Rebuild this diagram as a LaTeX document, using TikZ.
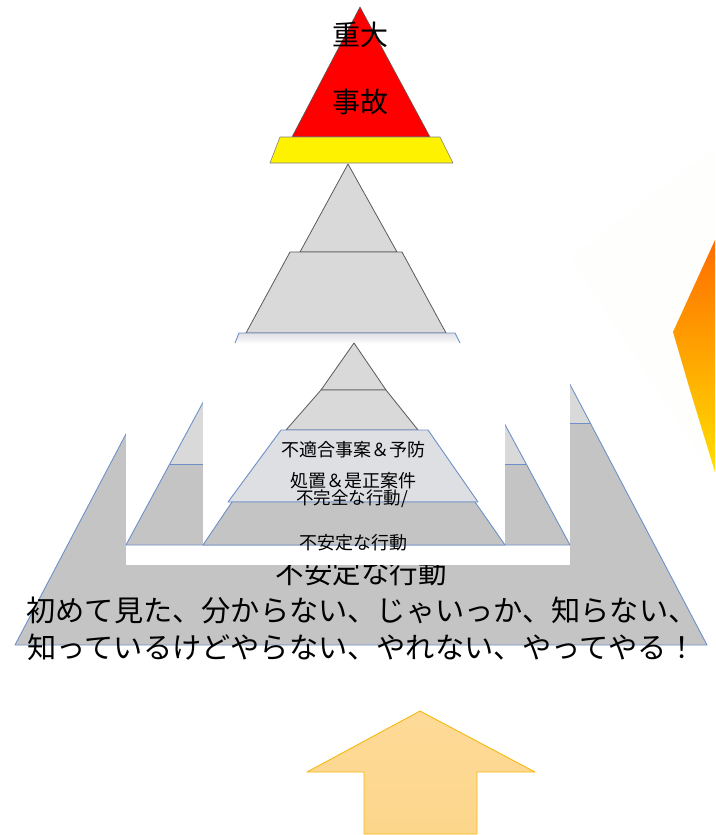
\documentclass[tikz,border=0pt]{standalone}
\usepackage{fontspec}
\setmainfont{Noto Sans CJK JP}
\definecolor{laylight}{HTML}{D9D9D9}
\definecolor{laymid}{HTML}{DEDFE3}
\definecolor{laydark}{HTML}{C4C4C4}
\definecolor{layedge}{HTML}{6F8FC9}
\definecolor{tipedge}{HTML}{5A5A5A}
\definecolor{arrowfill}{HTML}{FDD68C}
\definecolor{arrowedge}{HTML}{F6B80E}
\definecolor{paper}{HTML}{FEFEFC}
\begin{document}
\begin{tikzpicture}[x=1pt,y=-1pt,line join=round,
	bluelay/.style={draw=layedge,line width=0.9pt},
	graylay/.style={fill=laylight,draw=tipedge,line width=0.8pt},
	jp/.style={inner sep=0pt,text=black}]
	\useasboundingbox (0,0) rectangle (715,835);
	% corner of the orange picture on the right
	\fill[paper] (570,258) -- (715,146) -- (715,478) -- cycle;
	\shade[top color=orange!85!red, bottom color=yellow!75!orange] (715,240) -- (673,332) -- (690,390) -- (715,472) -- cycle;
	% big pyramid at the back
	\fill[laylight] (361,-13) -- (132,423) -- (590,423) -- cycle;
	\fill[laydark] (132,423) -- (15,645) -- (707,645) -- (590,423) -- cycle;
	\draw[bluelay] (361,-13) -- (15,645) -- (707,645) -- cycle;
	\draw[bluelay] (132,423) -- (590,423);
	\node[jp,font=\fontsize{28.5}{28.5}\selectfont] (bigact) at (361,573) {不安定な行動};
	\fill[white] (126,0) rectangle (570,565);
	% middle pyramid
	\fill[laylight] (348,134) -- (170,464) -- (526,464) -- cycle;
	\fill[laydark] (170,464) -- (126,545) -- (570,545) -- (526,464) -- cycle;
	\draw[bluelay] (348,134) -- (126,545) -- (570,545) -- cycle;
	\draw[bluelay] (170,464) -- (526,464);
	\fill[white] (203,0) rectangle (505,545);
	% gray pyramid under the red one
	\draw[graylay] (348,164) -- (300,252) -- (397,252) -- cycle;
	\draw[graylay] (290,252) -- (246,333) -- (446,333) -- (402,252) -- cycle;
	\shade[top color=laymid, bottom color=white!90!laymid] (239,333) -- (235,343) -- (460,343) -- (455,333) -- cycle;
	\draw[bluelay] (235,343) -- (239,333) -- (455,333) -- (460,343);
	% small pyramid
	\draw[graylay] (354,343) -- (321,390) -- (386,390) -- cycle;
	\draw[graylay] (321,390) -- (286,430) -- (418,430) -- (386,390) -- cycle;
	\draw[bluelay,fill=laymid] (281,430) -- (228,502) -- (478,502) -- (428,430) -- cycle;
	\draw[bluelay,fill=laydark] (232,502) -- (203,545) -- (505,545) -- (475,502) -- cycle;
	% red top
	\draw[fill=red,draw=gray!70!black,line width=0.6pt] (360,7) -- (292,137) -- (430,137) -- cycle;
	\draw[fill=yellow,draw=gray,line width=0.6pt] (280,137) -- (270,163) -- (453,163) -- (440,137) -- cycle;
	\node[jp,font=\fontsize{28}{28}\selectfont] (grave) at (360,35) {重大};
	\node[jp,font=\fontsize{28}{28}\selectfont] (accident) at (360,102) {事故};
	% labels of the small pyramid
	\node[jp,font=\fontsize{18}{18}\selectfont] (nonconf) at (353,450) {不適合事案＆予防};
	\node[jp,font=\fontsize{18}{18}\selectfont] (measure) at (353,481) {処置＆是正案件};
	\node[jp,font=\fontsize{17.5}{17.5}\selectfont] (incompl) at (352,499) {不完全な行動/};
	\node[jp,font=\fontsize{18}{18}\selectfont] (unsafe) at (353,543) {不安定な行動};
	\node[jp,font=\fontsize{29.2}{37}\selectfont,align=center] (excuses) at (362,629)
		{初めて見た、分からない、じゃいっか、知らない、\\知っているけどやらない、やれない、やってやる！};
	% arrow pointing up
	\shade[top color=arrowfill!90!white, bottom color=arrowfill] (420,711) -- (535,772) -- (477,772) -- (477,834) -- (364,834) -- (364,772) -- (307,772) -- cycle;
	\draw[arrowedge,line width=0.9pt] (420,711) -- (535,772) -- (477,772) -- (477,834) -- (364,834) -- (364,772) -- (307,772) -- cycle;
\end{tikzpicture}
\end{document}
